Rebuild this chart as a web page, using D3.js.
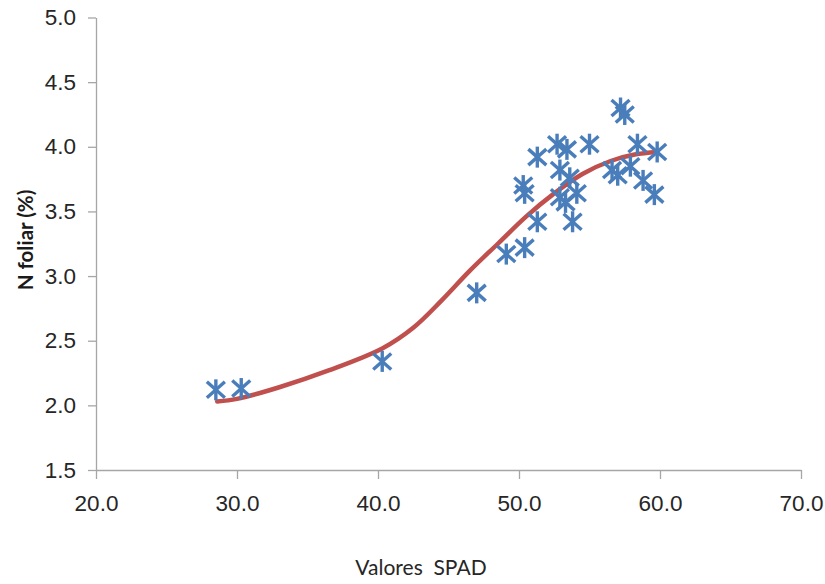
<!DOCTYPE html>
<html>
<head>
<meta charset="utf-8">
<script src="https://cdn.jsdelivr.net/npm/d3@7"></script>
<style>
  body { margin: 0; background: #fff; }
  svg { font-family: Lato, "Open Sans", sans-serif; }
  .axis path, .axis line { stroke: #a6a6a6; stroke-width: 1.3; }
  .axis text { fill: #262626; font-size: 22.5px; }
  .star { stroke: #4a7ebb; stroke-width: 3.4; fill: none; }
  .trend { stroke: #c0504d; stroke-width: 4.5; fill: none; stroke-linecap: round; }
</style>
</head>
<body>
<script>
// SPAD readings and leaf N (%)
const spad = [28.5, 30.3, 40.3, 47.0, 49.1, 50.4, 50.3, 50.4, 51.3, 51.3, 52.7, 53.4, 55.0,
  58.4, 59.8, 57.2, 57.5, 52.9, 53.6, 52.9, 54.1, 53.3, 53.8, 56.6, 57.0, 57.9, 58.8, 59.6];
const nFoliar = [2.12, 2.13, 2.34, 2.87, 3.17, 3.22, 3.70, 3.64, 3.42, 3.92, 4.02, 3.98, 4.02,
  4.02, 3.96, 4.30, 4.25, 3.82, 3.76, 3.61, 3.64, 3.57, 3.42, 3.82, 3.78, 3.85, 3.74, 3.63];

// trend line
const trendX = [28.6, 30.0, 33.0, 36.5, 40.3, 42.5, 44.5, 46.5, 48.5, 50.5, 52.5, 54.5, 56.5, 58.2, 59.8];
const trendY = [2.03, 2.05, 2.14, 2.27, 2.44, 2.60, 2.81, 3.04, 3.25, 3.46, 3.64, 3.79, 3.89, 3.94, 3.96];

const xTicks = [20, 30, 40, 50, 60, 70];
const yTicks = [1.5, 2.0, 2.5, 3.0, 3.5, 4.0, 4.5, 5.0];

const width = 825, height = 584;
const margin = {top: 17.5, right: 24, bottom: 114, left: 96};

const svg = d3.select("body").append("svg")
  .attr("width", width)
  .attr("height", height);

const xScale = d3.scaleLinear()
  .domain([20, 70])
  .range([margin.left, width - margin.right]);

const yScale = d3.scaleLinear()
  .domain([1.5, 5.0])
  .range([height - margin.bottom, margin.top]);

const xAxis = d3.axisBottom(xScale).tickValues(xTicks).tickFormat(d3.format(".1f"))
  .tickSizeOuter(0).tickSizeInner(9).tickPadding(13);
const yAxis = d3.axisLeft(yScale).tickValues(yTicks).tickFormat(d3.format(".1f"))
  .tickSizeOuter(0).tickSizeInner(8).tickPadding(12);

svg.append("g")
  .attr("class", "axis")
  .attr("transform", "translate(0," + (height - margin.bottom) + ")")
  .call(xAxis)
  .call(g => g.selectAll("text").attr("dy", "0.85em"));

svg.append("g")
  .attr("class", "axis")
  .attr("transform", "translate(" + margin.left + ",0)")
  .call(yAxis);

// trend line
const pts = trendX.map((x, i) => [x, trendY[i]]);
const line = d3.line()
  .x(d => xScale(d[0]))
  .y(d => yScale(d[1]))
  .curve(d3.curveCatmullRom.alpha(0.5));

svg.append("path")
  .datum(pts)
  .attr("class", "trend")
  .attr("d", line);

// asterisk markers
const r = 10.5, dx = 9, dy = 8;
const star = svg.append("g");
spad.forEach((x, i) => {
  const cx = xScale(x), cy = yScale(nFoliar[i]);
  const g = star.append("g").attr("class", "star").attr("transform", "translate(" + cx + "," + cy + ")");
  g.append("line").attr("x1", 0).attr("y1", -r).attr("x2", 0).attr("y2", r);
  g.append("line").attr("x1", -dx).attr("y1", -dy).attr("x2", dx).attr("y2", dy);
  g.append("line").attr("x1", -dx).attr("y1", dy).attr("x2", dx).attr("y2", -dy);
});

// axis titles
svg.append("text")
  .attr("transform", "translate(33,240) rotate(-90)")
  .attr("text-anchor", "middle")
  .attr("font-size", 20.5)
  .attr("font-weight", "bold")
  .attr("fill", "#1a1a1a")
  .text("N foliar (%)");

svg.append("text")
  .attr("x", 421)
  .attr("y", 575)
  .attr("text-anchor", "middle")
  .attr("font-size", 21)
  .attr("fill", "#262626")
  .attr("xml:space", "preserve")
  .style("white-space", "pre")
  .text("Valores  SPAD");
</script>
</body>
</html>
